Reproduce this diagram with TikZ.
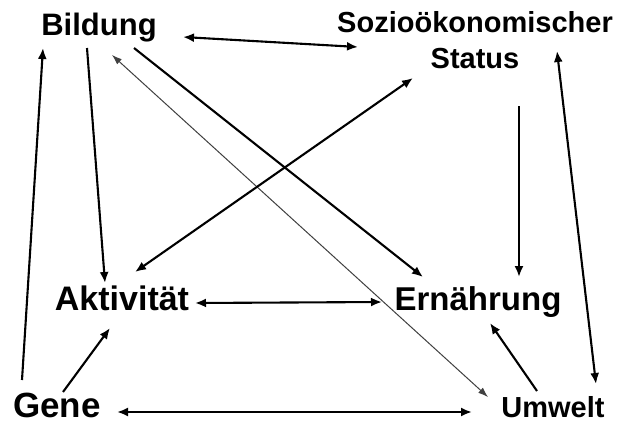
\documentclass[tikz,border=0pt]{standalone}
\usepackage{fontspec}
\setmainfont{Liberation Sans}
\usetikzlibrary{arrows.meta,calc}
\begin{document}
\begin{tikzpicture}[x=1pt,y=-1pt,
  lbl/.style={inner sep=0pt, anchor=base, font=\bfseries\fontsize{#1}{#1}\selectfont},
  arr/.style={line width=2.1pt, -{Latex[length=11pt,width=9pt]}},
  darr/.style={line width=2.1pt, {Latex[length=11pt,width=9pt]}-{Latex[length=11pt,width=9pt]}},
  thinarr/.style={line width=1pt, draw=black!75, {Latex[length=10pt,width=7pt]}-{Latex[length=10pt,width=7pt]}}]
\useasboundingbox (0,0) rectangle (618,423);
\fill[white] (0,0) rectangle (618,423);
% nodes
\node[lbl=31] (bildung) at (99,35) {Bildung};
\node[inner sep=0pt, anchor=base, align=center, font=\bfseries\fontsize{29}{36}\selectfont] (sozio) at (475,68) {Sozioökonomischer\\Status};
\node[lbl=34] (akt) at (122,310) {Aktivität};
\node[lbl=33] (ern) at (478,310) {Ernährung};
\node[lbl=35] (gene) at (57,417) {Gene};
\node[lbl=29] (umwelt) at (553,417) {Umwelt};
% connectors
\draw[darr] ($(bildung.base)+(84,2)$) -- ($(sozio.base)+(-117,-21)$);
\draw[arr] ($(gene.base)+(-35,-37)$) -- ($(bildung.base)+(-56,13)$);
\draw[arr] ($(bildung.base)+(-12,13)$) -- ($(akt.base)+(-17,-27)$);
\draw[thinarr] ($(bildung.base)+(13,20)$) -- ($(umwelt.base)+(-65,-20)$);
\draw[arr] ($(bildung.base)+(35,13)$) -- ($(ern.base)+(-55,-33)$);
\draw[darr] ($(akt.base)+(13,-38)$) -- ($(sozio.base)+(-62,10)$);
\draw[arr] ($(sozio.base)+(44,38)$) -- ($(ern.base)+(41,-33)$);
\draw[darr] ($(umwelt.base)+(43,-33)$) -- ($(sozio.base)+(82,-17)$);
\draw[darr] ($(akt.base)+(73,-7)$) -- ($(ern.base)+(-96,-8)$);
\draw[arr] ($(gene.base)+(6,-25)$) -- ($(akt.base)+(-12,18)$);
\draw[darr] ($(gene.base)+(60,-5)$) -- ($(umwelt.base)+(-81,-5)$);
\draw[arr] ($(umwelt.base)+(-16,-26)$) -- ($(ern.base)+(12,13)$);
\end{tikzpicture}
\end{document}
